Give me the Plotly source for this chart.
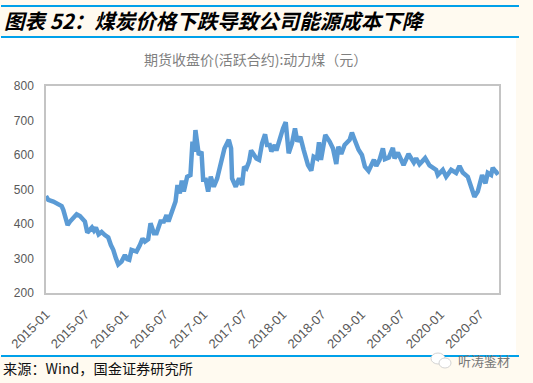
import plotly.graph_objects as go

tick_labels = ["2015-01","2015-07","2016-01","2016-07","2017-01","2017-07","2018-01","2018-07","2019-01","2019-07","2020-01","2020-07"]
tick_months = [0,6,12,18,24,30,36,42,48,54,60,66]

# elapsed months since 2015-01
months = [0,.35,1.11,1.87,2.38,2.63,3.04,3.29,3.65,4.05,4.66,5.16,5.92,6.28,6.68,6.99,7.29,7.59,8.0,8.46,8.96,9.47,9.87,10.23,10.63,10.99,11.49,12.0,12.35,12.66,13.01,13.77,14.28,14.68,15.04,15.54,15.9,16.41,16.81,17.42,17.92,18.33,18.63,19.24,19.7,20.0,20.35,20.66,20.96,21.47,21.97,22.28,22.53,22.73,23.04,23.24,23.65,23.9,24.3,24.66,25.06,25.52,26.03,26.43,26.84,27.14,27.8,28.15,28.3,28.86,29.37,29.82,30.13,30.48,30.89,31.19,32.0,32.41,32.86,33.32,33.62,34.03,34.28,34.78,35.04,35.54,36.05,36.46,36.91,37.42,37.87,38.23,38.68,39.19,39.85,40.35,40.71,41.22,41.52,41.82,42.48,43.14,43.65,44.15,44.46,44.91,45.42,46.18,46.53,46.94,47.54,48.05,48.51,49.06,49.87,50.23,50.73,51.24,51.54,52.15,52.76,53.01,53.52,54.38,55.14,55.95,56.3,56.81,57.67,58.33,59.34,59.59,60.35,60.86,61.62,62.38,62.89,63.39,64.15,64.66,65.16,65.67,66.33,66.84,67.19,67.7,67.95,68.56,68.86]
price = [481,470,465,458,452,441,412,397,407,416,428,423,407,375,383,390,381,390,370,377,368,361,339,325,301,283,291,310,298,296,325,320,339,358,349,356,402,373,373,407,407,426,407,436,465,513,489,526,494,537,542,639,610,672,610,600,610,528,528,494,537,508,532,561,586,619,644,619,532,508,532,513,566,561,581,613,590,586,634,660,629,629,610,629,613,648,677,695,605,634,677,639,653,615,571,555,595,590,637,586,658,639,619,574,624,603,629,644,665,644,615,600,566,554,586,568,586,619,588,593,621,590,607,571,603,578,590,573,591,570,557,542,557,537,557,548,568,549,537,508,479,494,542,518,548,542,563,548,552]

title_text = "图表 52：煤炭价格下跌导致公司能源成本下降"
chart_title = "期货收盘价(活跃合约):动力煤（元）"
source_text = "来源：Wind，国金证券研究所"
mark_text = "听涛鉴材"

W, H = 533, 383
L, R, T, B = 46, 499, 86, 293
px = lambda x: (x - L) / (R - L)
py = lambda y: (B - y) / (B - T)
CREAM = "#FFFAF0"
BLUE = "#00A0E9"

def rect(x0, y0, x1, y1, color, layer="below"):
    return dict(type="rect", xref="paper", yref="paper", x0=px(x0), x1=px(x1), y0=py(y0), y1=py(y1),
                fillcolor=color, line_width=0, layer=layer)

def circle(x0, y0, x1, y1, color):
    return dict(type="circle", xref="paper", yref="paper", x0=px(x0), x1=px(x1), y0=py(y0), y1=py(y1),
                fillcolor=color, line=dict(color="#c8c8c8", width=0.8), layer="above")

def text(x, y, s, size, color, anchor="left", family="Noto Sans CJK SC"):
    return dict(xref="paper", yref="paper", x=px(x), y=py(y), text=s, showarrow=False, xanchor=anchor,
                yanchor="middle", font=dict(size=size, color=color, family=family))

shapes = [
    rect(0, 0, 533, 37, CREAM),
    rect(0, 356, 533, 383, CREAM),
    rect(516, 0, 533, 383, CREAM),
    rect(1, 5, 519, 7, BLUE),
    rect(1, 36, 519, 38, BLUE),
    rect(1, 355, 519, 357, BLUE),
    circle(431, 353, 445, 364, "#ffffff"),
    circle(439, 358, 451, 368, "#ffffff"),
]

annotations = [
    text(2, 20, "<b><i>" + title_text + "</i></b>", 20.5, "#000000"),
    text(255, 59, chart_title, 14, "#7f7f7f", "center"),
    text(1, 368, source_text, 14.2, "#111111"),
    text(456, 360, mark_text, 13, "#777777"),
]

fig = go.Figure(go.Scatter(x=months, y=price, mode="lines",
                           line=dict(color="#5B9BD5", width=4.5, shape="linear"),
                           hoverinfo="skip"))
fig.update_layout(
    width=W, height=H, autosize=False,
    margin=dict(l=L, r=W - R, t=T, b=H - B, pad=0, autoexpand=False),
    paper_bgcolor="#ffffff", plot_bgcolor="#ffffff",
    showlegend=False, shapes=shapes, annotations=annotations,
    font=dict(family="Liberation Sans", color="#595959", size=12),
)
fig.update_xaxes(range=[0, 68.9], tickmode="array", tickvals=tick_months, ticktext=tick_labels,
                 tickangle=-45, showgrid=False, zeroline=False, ticks="",
                 ticklabelstandoff=7, automargin=False,
                 showline=True, mirror=True, linecolor="#c4c4c4", linewidth=1.5,
                 tickfont=dict(size=13, color="#595959"))
fig.update_yaxes(range=[200, 800], dtick=100, showgrid=False, zeroline=False, ticks="",
                 ticklabelstandoff=8, automargin=False,
                 showline=True, mirror=True, linecolor="#c4c4c4", linewidth=1.5,
                 tickfont=dict(size=12, color="#595959"))
fig.write_html("out.html", config=dict(displayModeBar=False),
               post_script="document.body.style.margin='0';document.body.style.overflow='hidden';")
